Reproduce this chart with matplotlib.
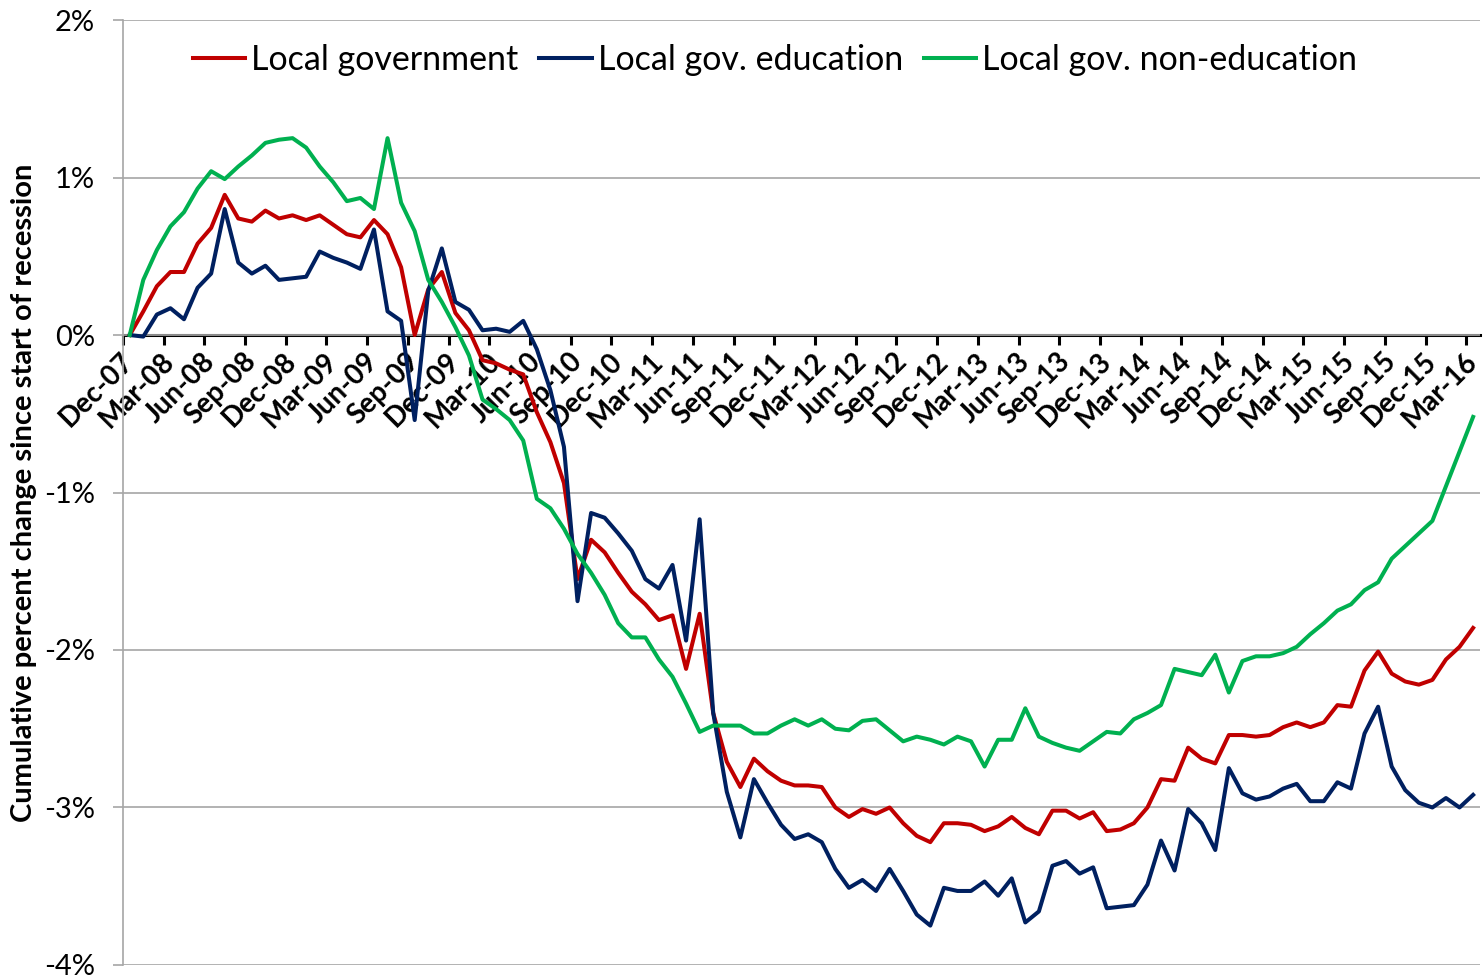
import numpy as np
import matplotlib.pyplot as plt

plt.rcParams["font.family"] = ["Lato", "DejaVu Sans"]

# monthly tick labels, Dec-07 .. Mar-16 (100 months)
months = ["Jan", "Feb", "Mar", "Apr", "May", "Jun",
          "Jul", "Aug", "Sep", "Oct", "Nov", "Dec"]
labels = []
for k in range(100):
    m = (11 + k) % 12
    y = 7 + (11 + k) // 12
    labels.append("{}-{:02d}".format(months[m], y))

# cumulative percent change since Dec-07
local_gov = [
    0.00, 0.15, 0.31, 0.40, 0.40, 0.58, 0.68, 0.89, 0.74, 0.72,
    0.79, 0.74, 0.76, 0.73, 0.76, 0.70, 0.64, 0.62, 0.73, 0.64,
    0.43, 0.00, 0.29, 0.40, 0.14, 0.03, -0.16, -0.18, -0.22, -0.25,
    -0.49, -0.68, -0.94, -1.55, -1.30, -1.38, -1.51, -1.63, -1.71, -1.81,
    -1.78, -2.12, -1.77, -2.40, -2.71, -2.87, -2.69, -2.77, -2.83, -2.86,
    -2.86, -2.87, -3.00, -3.06, -3.01, -3.04, -3.00, -3.10, -3.18, -3.22,
    -3.10, -3.10, -3.11, -3.15, -3.12, -3.06, -3.13, -3.17, -3.02, -3.02,
    -3.07, -3.03, -3.15, -3.14, -3.10, -3.00, -2.82, -2.83, -2.62, -2.69,
    -2.72, -2.54, -2.54, -2.55, -2.54, -2.49, -2.46, -2.49, -2.46, -2.35,
    -2.36, -2.13, -2.01, -2.15, -2.20, -2.22, -2.19, -2.06, -1.98, -1.86,
]
local_edu = [
    0.00, -0.01, 0.13, 0.17, 0.10, 0.30, 0.39, 0.80, 0.46, 0.39,
    0.44, 0.35, 0.36, 0.37, 0.53, 0.49, 0.46, 0.42, 0.67, 0.15,
    0.09, -0.54, 0.28, 0.55, 0.21, 0.16, 0.03, 0.04, 0.02, 0.09,
    -0.09, -0.35, -0.71, -1.69, -1.13, -1.16, -1.26, -1.37, -1.55, -1.61,
    -1.46, -1.94, -1.17, -2.40, -2.90, -3.19, -2.82, -2.97, -3.11, -3.20,
    -3.17, -3.22, -3.39, -3.51, -3.46, -3.53, -3.39, -3.53, -3.68, -3.75,
    -3.51, -3.53, -3.53, -3.47, -3.56, -3.45, -3.73, -3.66, -3.37, -3.34,
    -3.42, -3.38, -3.64, -3.63, -3.62, -3.49, -3.21, -3.40, -3.01, -3.10,
    -3.27, -2.75, -2.91, -2.95, -2.93, -2.88, -2.85, -2.96, -2.96, -2.84,
    -2.88, -2.53, -2.36, -2.74, -2.89, -2.97, -3.00, -2.94, -3.00, -2.92,
]
local_nonedu = [
    0.00, 0.35, 0.54, 0.69, 0.78, 0.93, 1.04, 0.99, 1.07, 1.14,
    1.22, 1.24, 1.25, 1.19, 1.07, 0.97, 0.85, 0.87, 0.80, 1.25,
    0.84, 0.66, 0.35, 0.21, 0.05, -0.13, -0.41, -0.47, -0.54, -0.67,
    -1.04, -1.10, -1.23, -1.39, -1.51, -1.65, -1.83, -1.92, -1.92, -2.06,
    -2.17, -2.34, -2.52, -2.48, -2.48, -2.48, -2.53, -2.53, -2.48, -2.44,
    -2.48, -2.44, -2.50, -2.51, -2.45, -2.44, -2.51, -2.58, -2.55, -2.57,
    -2.60, -2.55, -2.58, -2.74, -2.57, -2.57, -2.37, -2.55, -2.59, -2.62,
    -2.64, -2.58, -2.52, -2.53, -2.44, -2.40, -2.35, -2.12, -2.14, -2.16,
    -2.03, -2.27, -2.07, -2.04, -2.04, -2.02, -1.98, -1.90, -1.83, -1.75,
    -1.71, -1.62, -1.57, -1.42, -1.34, -1.26, -1.18, -0.96, -0.74, -0.52,
]

x = np.arange(len(labels))

fig = plt.figure(figsize=(14.83, 9.77), dpi=100)
ax = fig.add_axes([0.0829, 0.0123, 0.915, 0.9672])

ax.plot(x, local_gov, color="#C00000", lw=2.9, label="Local government")
ax.plot(x, local_edu, color="#002060", lw=2.9, label="Local gov. education")
ax.plot(x, local_nonedu, color="#00B050", lw=2.9, label="Local gov. non-education")

# y axis
ax.set_ylim(-4, 2)
ax.set_yticks(range(-4, 3))
ax.set_yticklabels(["{}%".format(v) for v in range(-4, 3)])
ax.grid(axis="y", color="#A6A6A6", lw=1.2)
ax.tick_params(axis="y", length=7, width=1.2, color="#A6A6A6",
               labelsize=21, pad=13)
ax.set_ylabel("Cumulative percent change since start of recession",
              fontsize=21, fontweight="bold")
ax.yaxis.set_label_coords(-0.0634, 0.5)

# x axis sits at zero, ticks between categories
ax.set_xlim(-0.5, len(x) - 0.5)
ax.spines["bottom"].set_position(("data", 0))
ax.spines["bottom"].set_linewidth(2.2)
ax.spines["bottom"].set_zorder(1)
ax.spines["top"].set_visible(False)
ax.spines["right"].set_visible(False)
ax.spines["left"].set_color("#A6A6A6")
ax.spines["left"].set_linewidth(1.2)

ax.set_xticks(np.arange(0, len(x), 3) - 0.5)
ax.set_xticklabels([])
ax.tick_params(axis="x", which="major", length=7, width=2.2)
ax.set_xticks(x[::3], minor=True)
ax.set_xticklabels(labels[::3], minor=True, rotation=45, ha="right",
                   va="center", rotation_mode="anchor", fontsize=20,
                   fontweight="bold")
ax.tick_params(axis="x", which="minor", length=0, pad=16)

fig.legend(loc="center", bbox_to_anchor=(0.5226, 0.9386), ncol=3,
           frameon=False, fontsize=24.5, handlelength=1.55,
           handletextpad=0.18, columnspacing=0.6)

fig.savefig("out.png", dpi=100)
